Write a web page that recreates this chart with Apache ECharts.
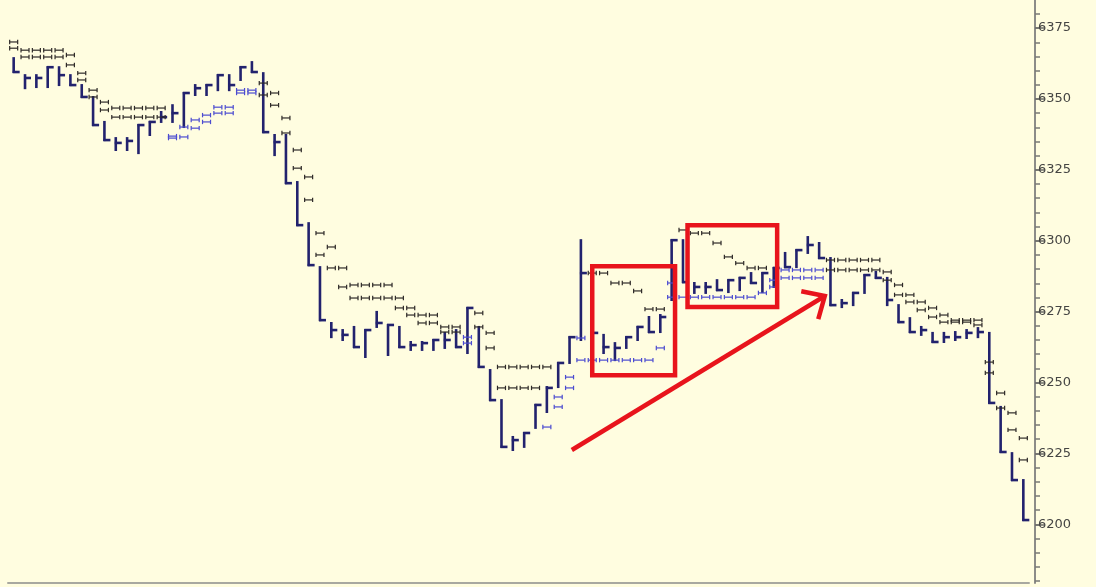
<!DOCTYPE html>
<html>
<head>
<meta charset="utf-8">
<script src="https://cdn.jsdelivr.net/npm/echarts@6/dist/echarts.min.js"></script>
<style>
  html, body { margin: 0; padding: 0; background: #fffde0; }
  #chart { width: 1096px; height: 587px; }
</style>
</head>
<body>
<div id="chart"></div>
<script>
// Session bars: high / low / close for each session
const sessions = Array.from({ length: 90 }, (_, i) => String(i + 1));

const highs = [
  6364.4, 6358.4, 6358.4, 6361.2, 6361.2, 6358.4, 6354.9, 6350.7, 6341.9, 6336.2,
  6336.2, 6340.8, 6341.9, 6345.4, 6347.8, 6352.1, 6354.9, 6354.9, 6358.4, 6358.4,
  6361.2, 6363.0, 6359.1, 6337.3, 6337.3, 6320.7, 6306.2, 6290.7, 6271.0, 6268.5,
  6269.6, 6268.5, 6274.9, 6270.3, 6269.6, 6264.3, 6264.3, 6265.0, 6267.5, 6268.5,
  6276.3, 6269.6, 6254.4, 6243.8, 6230.8, 6232.2, 6242.1, 6248.4, 6256.9, 6266.0,
  6300.2, 6267.5, 6266.8, 6263.9, 6266.0, 6269.6, 6273.1, 6273.8, 6300.2, 6300.2,
  6285.1, 6285.1, 6286.1, 6286.1, 6286.9, 6288.6, 6288.6, 6290.4, 6295.7, 6296.7,
  6301.3, 6299.2, 6293.9, 6279.1, 6281.6, 6287.9, 6289.0, 6286.9, 6277.3, 6272.7,
  6269.6, 6267.5, 6267.5, 6267.8, 6268.5, 6269.2, 6267.5, 6241.4, 6225.1, 6215.6
];

const lows = [
  6359.5, 6353.8, 6354.2, 6354.2, 6354.9, 6354.9, 6350.7, 6340.8, 6335.5, 6332.0,
  6332.0, 6330.9, 6337.3, 6341.9, 6341.9, 6340.1, 6351.4, 6351.4, 6353.1, 6353.1,
  6356.7, 6359.5, 6338.3, 6330.2, 6320.3, 6305.5, 6291.4, 6272.0, 6266.0, 6265.0,
  6262.5, 6259.0, 6269.6, 6259.7, 6262.5, 6261.5, 6261.5, 6261.5, 6262.2, 6262.5,
  6260.4, 6255.5, 6243.8, 6227.3, 6226.2, 6227.3, 6234.0, 6239.6, 6248.4, 6256.9,
  6265.0, 6262.5, 6260.4, 6257.9, 6262.2, 6265.0, 6267.8, 6267.8, 6279.1, 6285.4,
  6281.6, 6281.6, 6282.6, 6281.9, 6282.6, 6285.1, 6281.9, 6283.7, 6290.7, 6290.7,
  6295.7, 6293.9, 6277.3, 6276.6, 6277.3, 6281.6, 6286.9, 6277.3, 6271.3, 6267.8,
  6266.8, 6264.3, 6264.3, 6265.0, 6265.7, 6266.0, 6242.8, 6225.5, 6215.6, 6201.5
];

const closes = [
  6359.5, 6357.4, 6357.4, 6361.2, 6358.4, 6354.9, 6350.7, 6340.8, 6335.5, 6334.5,
  6335.2, 6340.8, 6341.9, 6343.6, 6345.0, 6352.1, 6353.8, 6354.9, 6358.4, 6354.9,
  6361.2, 6359.5, 6338.3, 6334.8, 6320.3, 6305.5, 6291.4, 6272.0, 6268.5, 6266.8,
  6262.5, 6268.5, 6271.0, 6270.3, 6262.5, 6263.2, 6263.9, 6265.0, 6265.0, 6262.5,
  6276.3, 6255.5, 6243.8, 6227.3, 6229.7, 6232.2, 6242.1, 6248.1, 6256.9, 6266.0,
  6288.6, 6267.5, 6262.5, 6262.2, 6266.0, 6269.6, 6267.8, 6273.1, 6300.2, 6285.4,
  6283.7, 6283.7, 6282.6, 6286.1, 6286.9, 6285.1, 6288.6, 6290.4, 6290.7, 6296.7,
  6298.5, 6293.9, 6277.3, 6278.0, 6281.6, 6287.9, 6286.9, 6279.1, 6271.3, 6267.8,
  6268.5, 6264.3, 6266.0, 6266.0, 6267.5, 6267.8, 6242.8, 6225.5, 6215.6, 6201.5
];

// Two trailing stop levels per session
const bandUpper = [
  6370.1, 6367.2, 6367.2, 6367.2, 6367.2, 6365.5, 6359.1, 6353.1, 6348.9, 6346.8,
  6346.8, 6346.8, 6346.8, 6346.8, 6336.9, 6340.1, 6342.6, 6344.3, 6347.1, 6347.1,
  6353.1, 6353.1, 6355.6, 6352.1, 6343.3, 6332.0, 6322.5, 6302.7, 6297.8, 6290.4,
  6284.4, 6284.4, 6284.4, 6284.4, 6279.8, 6276.3, 6273.8, 6273.8, 6269.6, 6269.6,
  6266.0, 6274.5, 6267.5, 6255.5, 6255.5, 6255.5, 6255.5, 6255.5, 6244.9, 6251.9,
  6265.7, 6288.6, 6288.6, 6285.1, 6285.1, 6282.3, 6275.9, 6275.9, 6285.1, 6303.8,
  6302.7, 6302.7, 6299.2, 6294.3, 6292.1, 6290.4, 6290.4, 6286.1, 6289.7, 6289.7,
  6289.7, 6289.7, 6293.2, 6293.2, 6293.2, 6293.2, 6293.2, 6289.0, 6284.4, 6280.9,
  6278.4, 6276.3, 6273.8, 6272.0, 6272.0, 6272.0, 6257.2, 6246.3, 6239.3, 6230.4
];

const bandLower = [
  6367.9, 6364.8, 6364.8, 6364.8, 6364.8, 6362.0, 6356.7, 6350.7, 6346.1, 6343.6,
  6343.6, 6343.6, 6343.6, 6343.6, 6336.2, 6336.6, 6339.7, 6341.9, 6345.0, 6345.0,
  6352.1, 6352.1, 6351.4, 6347.8, 6338.0, 6325.6, 6314.4, 6295.0, 6290.4, 6283.7,
  6279.8, 6279.8, 6279.8, 6279.8, 6276.3, 6273.8, 6271.0, 6271.0, 6267.8, 6267.8,
  6263.9, 6269.6, 6262.2, 6248.1, 6248.1, 6248.1, 6248.1, 6234.3, 6241.4, 6248.1,
  6257.9, 6257.9, 6257.9, 6257.9, 6257.9, 6257.9, 6257.9, 6262.2, 6280.1, 6280.1,
  6280.1, 6280.1, 6280.1, 6280.1, 6280.1, 6280.1, 6281.6, 6283.7, 6286.9, 6286.9,
  6286.9, 6286.9, 6289.7, 6289.7, 6289.7, 6289.7, 6289.7, 6286.1, 6280.9, 6278.4,
  6275.6, 6273.1, 6271.3, 6271.3, 6271.3, 6270.3, 6253.4, 6241.0, 6233.3, 6222.7
];

const priceTicks = [6200, 6225, 6250, 6275, 6300, 6325, 6350, 6375];
const priceMin = 6179.3;
const priceMax = 6384.9;

// Hand-drawn highlights, in session index / price units
const highlightBoxes = [
  { from: 51.0, to: 58.3, top: 6291.0, bottom: 6252.6 },
  { from: 59.4, to: 67.3, top: 6305.5, bottom: 6276.6 }
];
const trendArrow = { from: [49.2, 6226.2], to: [71.5, 6280.5] };

const BAR_COLOR = '#22226e';
const STOP_ABOVE = '#2e2a28';
const STOP_BELOW = '#4c4cd0';

const minorTicks = [];
for (let v = Math.ceil(priceMin / 5) * 5; v <= priceMax; v += 5) minorTicks.push(v);

const barData = sessions.map((_, i) => [i, highs[i], lows[i], closes[i]]);
const upperData = sessions.map((_, i) => [i, bandUpper[i], closes[i]]);
const lowerData = sessions.map((_, i) => [i, bandLower[i], closes[i]]);

function renderBar(params, api) {
  const i = api.value(0);
  const hi = api.coord([i, api.value(1)]);
  const lo = api.coord([i, api.value(2)]);
  const cl = api.coord([i, api.value(3)]);
  const style = { stroke: BAR_COLOR, lineWidth: 2.6 };
  return {
    type: 'group',
    children: [
      { type: 'line', shape: { x1: hi[0], y1: hi[1] - 1, x2: lo[0], y2: lo[1] + 1 }, style },
      { type: 'line', shape: { x1: cl[0] - 1, y1: cl[1], x2: cl[0] + 6, y2: cl[1] }, style }
    ]
  };
}

function renderStop(params, api) {
  const i = api.value(0);
  const level = api.value(1);
  const p = api.coord([i, level]);
  const color = level >= api.value(2) ? STOP_ABOVE : STOP_BELOW;
  const style = { stroke: color, lineWidth: 1.2 };
  const w = 4, h = 2.2;
  return {
    type: 'group',
    children: [
      { type: 'line', shape: { x1: p[0] - w, y1: p[1], x2: p[0] + w, y2: p[1] }, style },
      { type: 'line', shape: { x1: p[0] - w, y1: p[1] - h, x2: p[0] - w, y2: p[1] + h }, style },
      { type: 'line', shape: { x1: p[0] + w, y1: p[1] - h, x2: p[0] + w, y2: p[1] + h }, style }
    ]
  };
}

const chart = echarts.init(document.getElementById('chart'), null, { renderer: 'canvas' });

chart.setOption({
  animation: false,
  backgroundColor: '#fffde0',
  grid: { left: 8, right: 67, top: 0, bottom: 4 },
  xAxis: {
    type: 'category',
    data: sessions,
    boundaryGap: true,
    axisLine: { show: true, lineStyle: { color: '#a8a8a0', width: 2 } },
    axisTick: { show: false },
    axisLabel: { show: false },
    splitLine: { show: false }
  },
  yAxis: [
    {
      type: 'value',
      position: 'right',
      offset: 6,
      min: priceMin,
      max: priceMax,
      axisLine: { show: true, lineStyle: { color: '#8c8c88', width: 2 } },
      axisTick: { show: true, customValues: minorTicks, length: 5, lineStyle: { color: '#7a7a76', width: 1.5 } },
      axisLabel: { show: false },
      splitLine: { show: false }
    },
    {
      type: 'value',
      position: 'right',
      offset: 6,
      min: priceMin,
      max: priceMax,
      axisLine: { show: false },
      axisTick: { show: true, customValues: priceTicks, length: 9, lineStyle: { color: '#6e6e6a', width: 1.5 } },
      axisLabel: {
        show: true,
        customValues: priceTicks,
        formatter: v => String(v),
        margin: 3,
        color: '#454543',
        fontSize: 13,
        fontFamily: 'DejaVu Sans'
      },
      splitLine: { show: false }
    }
  ],
  series: [
    {
      name: 'Price',
      type: 'custom',
      renderItem: renderBar,
      data: barData,
      encode: { x: 0, y: [1, 2] },
      z: 2
    },
    {
      name: 'Stop upper',
      type: 'custom',
      renderItem: renderStop,
      data: upperData,
      encode: { x: 0, y: 1 },
      z: 3
    },
    {
      name: 'Stop lower',
      type: 'custom',
      renderItem: renderStop,
      data: lowerData,
      encode: { x: 0, y: 1 },
      z: 3
    }
  ]
});

// Map a fractional session index and a price to pixels
function toPixel(idx, price) {
  const i0 = Math.floor(idx);
  const f = idx - i0;
  const a = chart.convertToPixel({ xAxisIndex: 0, yAxisIndex: 0 }, [i0, price]);
  const b = chart.convertToPixel({ xAxisIndex: 0, yAxisIndex: 0 }, [i0 + 1, price]);
  return [a[0] + (b[0] - a[0]) * f, a[1]];
}

const RED = '#e8141c';
const overlay = [];
highlightBoxes.forEach(box => {
  const tl = toPixel(box.from, box.top);
  const br = toPixel(box.to, box.bottom);
  overlay.push({
    type: 'rect',
    shape: { x: tl[0], y: tl[1], width: br[0] - tl[0], height: br[1] - tl[1] },
    style: { fill: 'none', stroke: RED, lineWidth: 4.5 },
    z: 10
  });
});

const tail = toPixel(trendArrow.from[0], trendArrow.from[1]);
const tip = toPixel(trendArrow.to[0], trendArrow.to[1]);
const ang = Math.atan2(tail[1] - tip[1], tail[0] - tip[0]);
const headLen = 24, spread = Math.PI / 4.2;
const armA = [tip[0] + headLen * Math.cos(ang + spread), tip[1] + headLen * Math.sin(ang + spread)];
const armB = [tip[0] + headLen * Math.cos(ang - spread), tip[1] + headLen * Math.sin(ang - spread)];
overlay.push({
  type: 'line',
  shape: { x1: tail[0], y1: tail[1], x2: tip[0], y2: tip[1] },
  style: { stroke: RED, lineWidth: 4.5 },
  z: 10
});
overlay.push({
  type: 'polyline',
  shape: { points: [armA, tip, armB] },
  style: { stroke: RED, lineWidth: 4.5, fill: 'none', lineJoin: 'miter' },
  z: 10
});

chart.setOption({ graphic: overlay });
</script>
</body>
</html>
